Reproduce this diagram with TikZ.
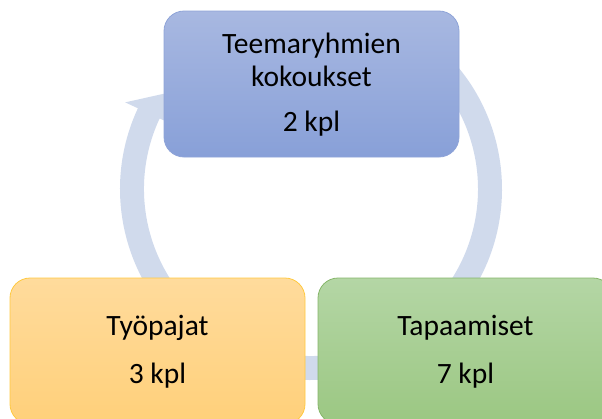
\documentclass[tikz,border=0pt]{standalone}
\usepackage{fontspec}
\setmainfont{Carlito}
\usetikzlibrary{calc}
\definecolor{arrowc}{HTML}{D0DAEC}
\definecolor{blueT}{HTML}{A8B8E1}
\definecolor{blueB}{HTML}{88A0D8}
\definecolor{blueD}{HTML}{8FA4D8}
\definecolor{yelT}{HTML}{FFDB9C}
\definecolor{yelB}{HTML}{FFD07A}
\definecolor{yelD}{HTML}{FFC940}
\definecolor{grnT}{HTML}{B4D6A5}
\definecolor{grnB}{HTML}{9BC782}
\definecolor{grnD}{HTML}{86B66A}
\begin{document}
\begin{tikzpicture}[x=1pt,y=-1pt,
  box/.style={rectangle, rounded corners=20pt, minimum width=295pt, minimum height=146pt, inner sep=0pt, line width=0.8pt},
  lbl/.style={anchor=base, font=\fontsize{29.5}{33}\selectfont, inner sep=0pt, text=black}]
\useasboundingbox (0,0) rectangle (602,418);
\clip (0,0) rectangle (602,418);
\coordinate (C) at (311,189);
\coordinate (tip) at (185,89);
% circular arrow
\fill[arrowc] ($(C)+(-50:191)$) arc[start angle=-50, end angle=205, radius=191]
  -- ($(C)+(205:205)$) -- (tip) -- ($(C)+(205:153)$) -- ($(C)+(205:167)$)
  arc[start angle=205, end angle=-50, radius=167] -- cycle;
% boxes
\node[box, draw=blueD, top color=blueT, bottom color=blueB] (top) at (311.5,84) {};
\node[box, draw=yelD, top color=yelT, bottom color=yelB] (left) at (157.5,351) {};
\node[box, draw=grnD, top color=grnT, bottom color=grnB] (right) at (465.5,351) {};
% texts
\node[lbl] (t1) at (311.5,53) {Teemaryhmien};
\node[lbl] (t2) at (311.5,86) {kokoukset};
\node[lbl] (t3) at (311.5,131) {2 kpl};
\node[lbl] (l1) at (157.5,335) {Työpajat};
\node[lbl] (l2) at (157.5,383) {3 kpl};
\node[lbl] (r1) at (465.5,335) {Tapaamiset};
\node[lbl] (r2) at (465.5,383) {7 kpl};
\end{tikzpicture}
\end{document}
